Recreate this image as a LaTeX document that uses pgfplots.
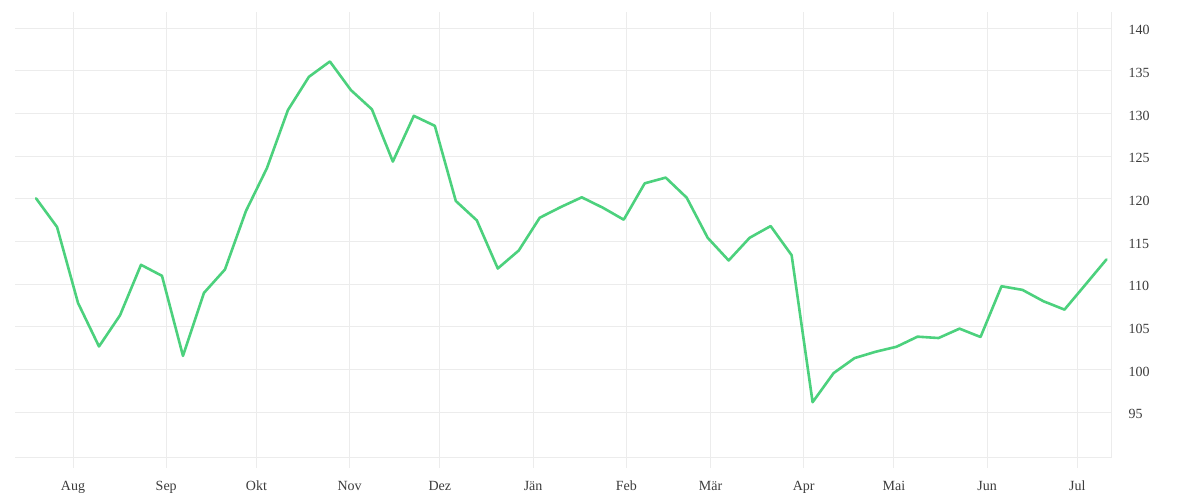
\documentclass[border=0pt]{standalone}
\usepackage{fontspec}
\setmainfont{Liberation Serif}
\usepackage{pgfplots}
\pgfplotsset{compat=1.18}
\definecolor{gridgray}{RGB}{236,236,236}
\definecolor{linegreen}{RGB}{76,209,125}
\definecolor{labelgray}{RGB}{60,60,60}
\begin{document}
\begin{tikzpicture}[x=1pt,y=1pt]
\path[use as bounding box] (0,0) rectangle (1200,500);
\begin{axis}[
  at={(15pt,42pt)}, anchor=south west,
  scale only axis, width=1096pt, height=446pt,
  xmin=-19.3, xmax=345.2, ymin=89.63, ymax=141.9,
  axis x line*=bottom, axis y line*=right,
  axis line style={-, draw=gridgray, line width=1pt},
  xtick={0,31,61,92,122,153,184,212,243,273,304,334},
  xticklabels={Aug,Sep,Okt,Nov,Dez,Jän,Feb,Mär,Apr,Mai,Jun,Jul},
  ytick={95,100,105,110,115,120,125,130,135,140},
  grid=major,
  major grid style={draw=gridgray, line width=1pt},
  tick align=outside,
  major tick length=10pt,
  xtick style={draw=gridgray, line width=1pt},
  ytick style={draw=none},
  /pgf/number format/assume math mode=true,
  tick label style={font=\fontsize{14}{16}\selectfont, text=labelgray},
  xticklabel style={text height=10pt, text depth=3pt, yshift=-8.5pt},
  yticklabel style={anchor=west, xshift=4pt, yshift=-2pt},
  clip=false,
]
\addplot[linegreen, line width=2.6pt, line join=round, line cap=round] coordinates {
(-12.3,120.06) (-5.32,116.7) (1.66,107.8) (8.64,102.7) (15.62,106.35)
(22.6,112.27) (29.58,110.98) (36.56,101.6) (43.54,108.98) (50.52,111.72)
(57.5,118.57) (64.48,123.6) (71.46,130.4) (78.44,134.3) (85.42,136.1)
(92.4,132.75) (99.38,130.5) (106.36,124.37) (113.34,129.73) (120.32,128.56)
(127.3,119.75) (134.28,117.48) (141.26,111.84) (148.24,113.95) (155.22,117.79)
(162.2,119.04) (169.18,120.18) (176.16,118.97) (183.14,117.56) (190.12,121.82)
(197.1,122.49) (204.08,120.14) (211.06,115.44) (218.04,112.78) (225.02,115.44)
(232.0,116.81) (238.98,113.4) (245.96,96.17) (252.94,99.58) (259.92,101.34)
(266.9,102.08) (273.88,102.67) (280.86,103.85) (287.84,103.69) (294.82,104.79)
(301.8,103.81) (308.78,109.76) (315.76,109.33) (322.74,108.0) (329.72,107.02)
(336.7,109.95) (343.68,112.9)
};
\end{axis}
\end{tikzpicture}
\end{document}
